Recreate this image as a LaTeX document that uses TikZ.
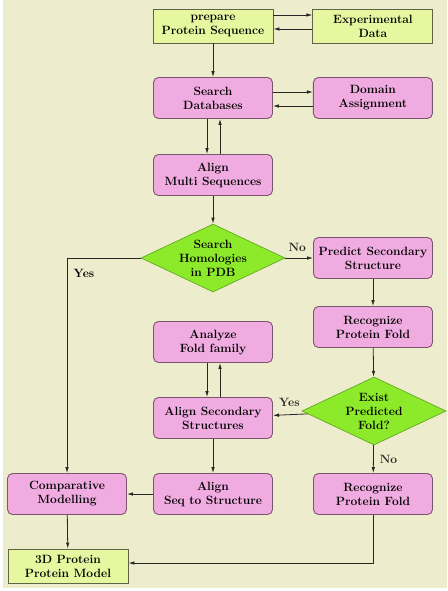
\documentclass[tikz,border=0pt]{standalone}
\usepackage{tikz}
\usetikzlibrary{arrows.meta,positioning,shapes.geometric}
\definecolor{paper}{RGB}{237,236,204}
\definecolor{lime}{RGB}{230,247,160}
\definecolor{limeline}{RGB}{95,100,70}
\definecolor{pink}{RGB}{240,172,224}
\definecolor{pinkline}{RGB}{125,85,110}
\definecolor{green}{RGB}{140,234,42}
\definecolor{greenline}{RGB}{100,170,30}

\begin{document}
\begin{tikzpicture}[x=1pt,y=-1pt,
  every node/.style={align=center,font=\fontsize{12}{14}\selectfont\bfseries,inner sep=2pt},
  io/.style={draw=limeline,line width=0.9pt,fill=lime,minimum width=120pt,minimum height=34pt},
  task/.style={draw=pinkline,line width=0.9pt,fill=pink,rounded corners=5pt,minimum width=119pt,minimum height=41pt},
  test/.style={diamond,draw=greenline,line width=0.7pt,fill=green,aspect=2.1,minimum width=144pt,minimum height=68pt,inner sep=-8pt},
  flow/.style={-{Latex[length=6pt,width=3.5pt]},line width=0.8pt,black!85}]
  \useasboundingbox (0,0) rectangle (447,591);
  \fill[paper] (3,0) rectangle (447,588);
  % top rows
  \node[io] (prep) at (213,26) {prepare\\Protein Sequence};
  \node[io,right=39pt of prep] (exp) {Experimental\\Data};
  \node[task] (search) at (213,98) {Search\\Databases};
  \node[task,right=40pt of search] (domain) {Domain\\Assignment};
  \node[task] (multi) at (213,175) {Align\\Multi Sequences};
  \node[test] (homol) at (213,258) {Search\\Homologies\\in PDB};
  % right branch
  \node[task] (predict) at (373,258) {Predict Secondary\\Structure};
  \node[task] (fold) at (373,327) {Recognize\\Protein Fold};
  \node[test] (exist) at (374,411) {Exist\\Predicted\\Fold?};
  \node[task] (refold) at (373,494) {Recognize\\Protein Fold};
  % middle and left
  \node[task] (family) at (213,342) {Analyze\\Fold family};
  \node[task] (secalign) at (213,418) {Align Secondary\\Structures};
  \node[task] (seqalign) at (213,494) {Align\\Seq to Structure};
  \node[task] (compare) at (67,494) {Comparative\\Modelling};
  \node[io] (model) at (68,566) {3D Protein\\Protein Model};

  \draw[flow] ([yshift=11pt]prep.east) -- ([yshift=11pt]exp.west);
  \draw[flow] ([yshift=-3pt]exp.west) -- ([yshift=-3pt]prep.east);
  \draw[flow] (prep) -- (search);
  \draw[flow] ([yshift=6pt]search.east) -- ([yshift=6pt]domain.west);
  \draw[flow] ([yshift=-8pt]domain.west) -- ([yshift=-8pt]search.east);
  \draw[flow] ([xshift=-6pt]search.south) -- ([xshift=-6pt]multi.north);
  \draw[flow] ([xshift=7pt]multi.north) -- ([xshift=7pt]search.south);
  \draw[flow] (multi) -- (homol);
  \draw[flow] (homol) -- node[above,xshift=-2pt,yshift=4pt]{No} (predict);
  \draw[flow] (homol.west) -| (compare.north);
  \node (yes1) at (84,273) {Yes};
  \draw[flow] (predict) -- (fold);
  \draw[flow] (fold) -- (exist);
  \draw[flow] (exist) -- node[above,xshift=-1pt,yshift=6pt]{Yes} (secalign);
  \draw[flow] (exist) -- node[right,xshift=4pt]{No} (refold);
  \draw[flow] ([xshift=-6pt]family.south) -- ([xshift=-6pt]secalign.north);
  \draw[flow] ([xshift=7pt]secalign.north) -- ([xshift=7pt]family.south);
  \draw[flow] (secalign) -- (seqalign);
  \draw[flow] (seqalign) -- (compare);
  \draw[flow] (compare) -- (model);
  \draw[flow] (refold.south) |- ([yshift=3pt]model.east);
\end{tikzpicture}
\end{document}
